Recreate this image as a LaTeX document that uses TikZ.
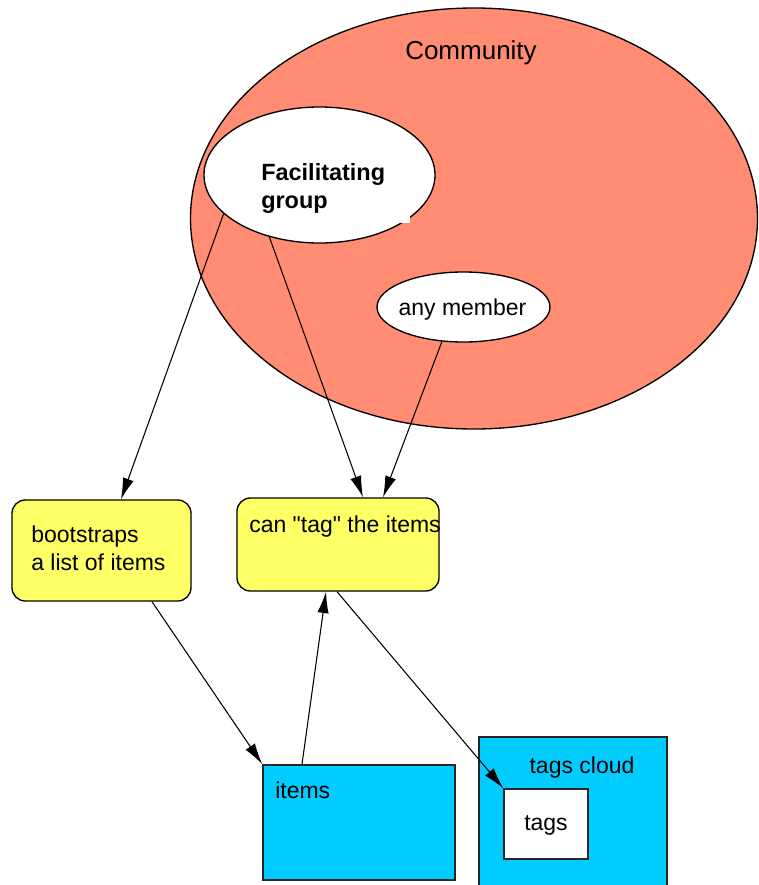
\documentclass[tikz,border=0pt]{standalone}
\usepackage{fontspec}
\setmainfont{Liberation Sans}[Ligatures=TeXOff]
\usetikzlibrary{shapes.geometric,arrows.meta,calc}

\definecolor{salmon}{HTML}{FF8C73}
\definecolor{noteyellow}{HTML}{FFFF66}
\definecolor{skyblue}{HTML}{00CCFF}

\tikzset{
  blob/.style={ellipse, draw=black, line width=1pt, inner sep=0pt},
  notebox/.style={rectangle, rounded corners=10pt, draw=black, line width=1pt,
                  fill=noteyellow, inner sep=0pt},
  store/.style={rectangle, draw=black!85, line width=1.1pt, fill=skyblue, inner sep=0pt},
  label/.style={inner sep=0pt, font=\fontsize{17.25pt}{21pt}\selectfont, text=black},
  flow/.style={draw=black, line width=0.8pt, -{Latex[length=16pt,width=8.5pt]}}
}

\begin{document}
\begin{tikzpicture}[x=0.75pt, y=-0.75pt]
  \useasboundingbox (0,0) rectangle (758,885);

  % community and its two groups
  \node[blob, fill=salmon, minimum width=425.25pt, minimum height=315.75pt] (community) at (474,218.5) {};
  \node[label, anchor=base, font=\fontsize{19.5pt}{23pt}\selectfont] (communitytxt) at (471,59) {Community};

  \node[blob, fill=white, minimum width=173.25pt, minimum height=102pt] (fac) at (319.5,175) {};
  \fill[white] (250,140) rectangle (410,223);
  \node[label, anchor=base west, font=\bfseries\fontsize{17.6pt}{21pt}\selectfont] (factxt) at (261,180) {Facilitating};
  \node[label, anchor=base west, font=\bfseries\fontsize{17.6pt}{21pt}\selectfont] (factxt2) at (261,208) {group};

  \node[blob, fill=white, minimum width=129.75pt, minimum height=52.5pt] (any) at (463.5,307) {};
  \node[label, anchor=base] (anytxt) at (462.5,315) {any member};

  % activity boxes
  \node[notebox, minimum width=134.25pt, minimum height=75.75pt] (boot) at (101.5,550.5) {};
  \node[label, anchor=base west] (boottxt1) at (31,542) {bootstraps};
  \node[label, anchor=base west] (boottxt2) at (31,570) {a list of items};

  \node[notebox, minimum width=151.5pt, minimum height=69.75pt] (cantag) at (338,544.5) {};
  \node[label, anchor=base west] (cantagtxt) at (249,532) {can "tag" the items};

  % stores
  \node[store, minimum width=144pt, minimum height=86.25pt] (items) at (359,822.5) {};
  \node[label, anchor=base west] (itemstxt) at (275,798) {items};

  \node[store, minimum width=141pt, minimum height=114.75pt] (cloud) at (573,813.5) {};
  \node[label, anchor=base] (cloudtxt) at (582,773) {tags cloud};

  \node[store, fill=white, minimum width=63pt, minimum height=52.5pt] (tags) at (546,824) {};
  \node[label, anchor=base] (tagstxt) at (546,830) {tags};

  % connectors
  \draw[flow] (fac.202) -- ($(boot.north)+(19.5,0)$);
  \draw[flow] (fac.231.4) -- ($(cantag.north)+(25,0)$);
  \draw[flow] (any.238.4) -- ($(cantag.north)+(45,0)$);
  \draw[flow] ($(boot.south)+(50.5,0)$) -- (items.north west);
  \draw[flow] ($(items.north)+(-57,0)$) -- ($(cantag.south)+(-12,0)$);
  \draw[flow] ($(cantag.south)+(-1,0)$) -- (tags.north west);
\end{tikzpicture}
\end{document}
